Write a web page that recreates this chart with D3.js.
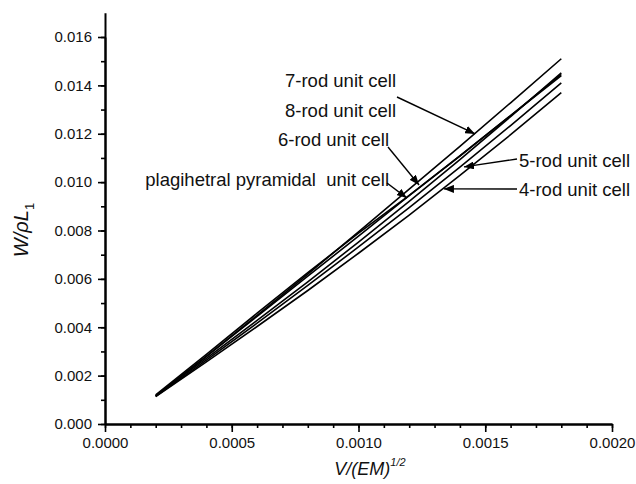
<!DOCTYPE html>
<html>
<head>
<meta charset="utf-8">
<script src="https://cdn.jsdelivr.net/npm/d3@7"></script>
<style>
  body { margin: 0; background: #fff; }
  svg { display: block; font-family: "Liberation Sans", Arial, sans-serif; }
  .axis path, .axis line { stroke: #000; }
  .axis path { stroke-width: 2; }
  .axis line { stroke-width: 1.6; }
  .axis text { font-size: 15px; fill: #111; }
  .curve { fill: none; stroke: #000; stroke-width: 1.6; }
  .note { font-size: 18.5px; fill: #111; }
  .leader { stroke: #000; stroke-width: 1.4; fill: none; }
</style>
</head>
<body>
<svg width="636" height="484"></svg>
<script>
// V/(EM)^1/2 sample points
var xValues = [0.0002, 0.0004, 0.0006, 0.0008, 0.0010, 0.0012, 0.0014, 0.0016, 0.0018];

// W/rhoL1 for each unit cell
var rod7 = [0.00115, 0.00280, 0.00449, 0.00620, 0.00794, 0.00971, 0.01148, 0.01328, 0.01510];
var rod8 = [0.00117, 0.00271, 0.00428, 0.00588, 0.00752, 0.00920, 0.01093, 0.01271, 0.01452];
var rod6 = [0.00116, 0.00280, 0.00445, 0.00611, 0.00777, 0.00944, 0.01109, 0.01275, 0.01440];
var plagihetral = [0.00120, 0.00288, 0.00458, 0.00626, 0.00789, 0.00945, 0.01108, 0.01275, 0.01445];
var rod5 = [0.00114, 0.00264, 0.00417, 0.00573, 0.00732, 0.00895, 0.01062, 0.01234, 0.01410];
var rod4 = [0.00113, 0.00257, 0.00403, 0.00552, 0.00706, 0.00864, 0.01028, 0.01196, 0.01370];

var xTicks = [0, 0.0005, 0.0010, 0.0015, 0.0020];
var yTicks = [0, 0.002, 0.004, 0.006, 0.008, 0.010, 0.012, 0.014, 0.016];

// label text, where the text sits, where its leader starts, and the data point it points at
var notes = [
    { text: "7-rod unit cell", tx: 285, ty: 87, anchor: "start", from: [397, 97], tip: [0.00146, 0.01199] },
    { text: "8-rod unit cell", tx: 285, ty: 117, anchor: "start" },
    { text: "6-rod unit cell", tx: 278, ty: 146, anchor: "start", from: [388, 147], tip: [0.001239, 0.00988] },
    { text: "plagihetral pyramidal\u00a0 unit cell", tx: 389, ty: 186, anchor: "end", from: [387, 183], tip: [0.001191, 0.00934] },
    { text: "5-rod unit cell", tx: 519, ty: 167, anchor: "start", from: [517, 159], tip: [0.001416, 0.01063] },
    { text: "4-rod unit cell", tx: 519, ty: 196, anchor: "start", from: [517, 189], tip: [0.001337, 0.00972] }
];

var svg = d3.select("svg");
var x = d3.scaleLinear().domain([0, 0.002]).range([105, 612]);
var y = d3.scaleLinear().domain([0, 0.016]).range([424, 37]);
var yTop = y(0.017);

// minor ticks first, then major ones with labels
svg.append("g")
    .attr("class", "axis")
    .attr("transform", "translate(0," + y(0) + ")")
    .call(d3.axisBottom(x).tickValues(d3.range(0, 21).map(function (i) { return i * 0.0001; }))
        .tickSize(4).tickSizeOuter(0).tickFormat(""));
svg.append("g")
    .attr("class", "axis")
    .attr("transform", "translate(0," + y(0) + ")")
    .call(d3.axisBottom(x).tickValues(xTicks).tickSize(8).tickSizeOuter(0)
        .tickPadding(5).tickFormat(d3.format(".4f")));

var yMinor = d3.scaleLinear().domain([0, 0.017]).range([y(0), yTop]);
svg.append("g")
    .attr("class", "axis")
    .attr("transform", "translate(" + x(0) + ",0)")
    .call(d3.axisLeft(yMinor).tickValues(d3.range(0, 17).map(function (i) { return i * 0.001; }))
        .tickSize(4).tickSizeOuter(0).tickFormat(""));
svg.append("g")
    .attr("class", "axis")
    .attr("transform", "translate(" + x(0) + ",0)")
    .call(d3.axisLeft(y).tickValues(yTicks).tickSize(7).tickSizeOuter(0)
        .tickPadding(6).tickFormat(d3.format(".3f")));

// curves
var series = [rod7, rod8, rod6, plagihetral, rod5, rod4];
var line = d3.line()
    .x(function (d, i) { return x(xValues[i]); })
    .y(function (d) { return y(d); });
svg.selectAll("path.curve")
    .data(series)
    .enter().append("path")
    .attr("class", "curve")
    .attr("d", line);

// arrowheads
svg.append("defs").append("marker")
    .attr("id", "head")
    .attr("markerUnits", "userSpaceOnUse")
    .attr("markerWidth", 10)
    .attr("markerHeight", 8)
    .attr("refX", 10)
    .attr("refY", 4)
    .attr("orient", "auto")
    .append("path")
    .attr("d", "M0,0L10,4L0,8Z")
    .attr("fill", "#000");

notes.forEach(function (n) {
    svg.append("text")
        .attr("class", "note")
        .attr("x", n.tx)
        .attr("y", n.ty)
        .attr("text-anchor", n.anchor)
        .text(n.text);
    if (n.tip) {
        svg.append("line")
            .attr("class", "leader")
            .attr("x1", n.from[0])
            .attr("y1", n.from[1])
            .attr("x2", x(n.tip[0]))
            .attr("y2", y(n.tip[1]))
            .attr("marker-end", "url(#head)");
    }
});

// axis titles
var yTitle = svg.append("text")
    .attr("transform", "translate(28,230) rotate(-90)")
    .attr("text-anchor", "middle")
    .attr("font-size", 20)
    .attr("fill", "#111");
yTitle.append("tspan").attr("font-style", "italic").text("W/\u03c1L");
yTitle.append("tspan").attr("font-size", 13).attr("dy", 6).text("1");

var xTitle = svg.append("text")
    .attr("x", 370)
    .attr("y", 475)
    .attr("text-anchor", "middle")
    .attr("font-size", 18)
    .attr("font-style", "italic")
    .attr("fill", "#111");
xTitle.append("tspan").text("V/(EM)");
xTitle.append("tspan").attr("font-size", 11).attr("dy", -9).text("1/2");
</script>
</body>
</html>
